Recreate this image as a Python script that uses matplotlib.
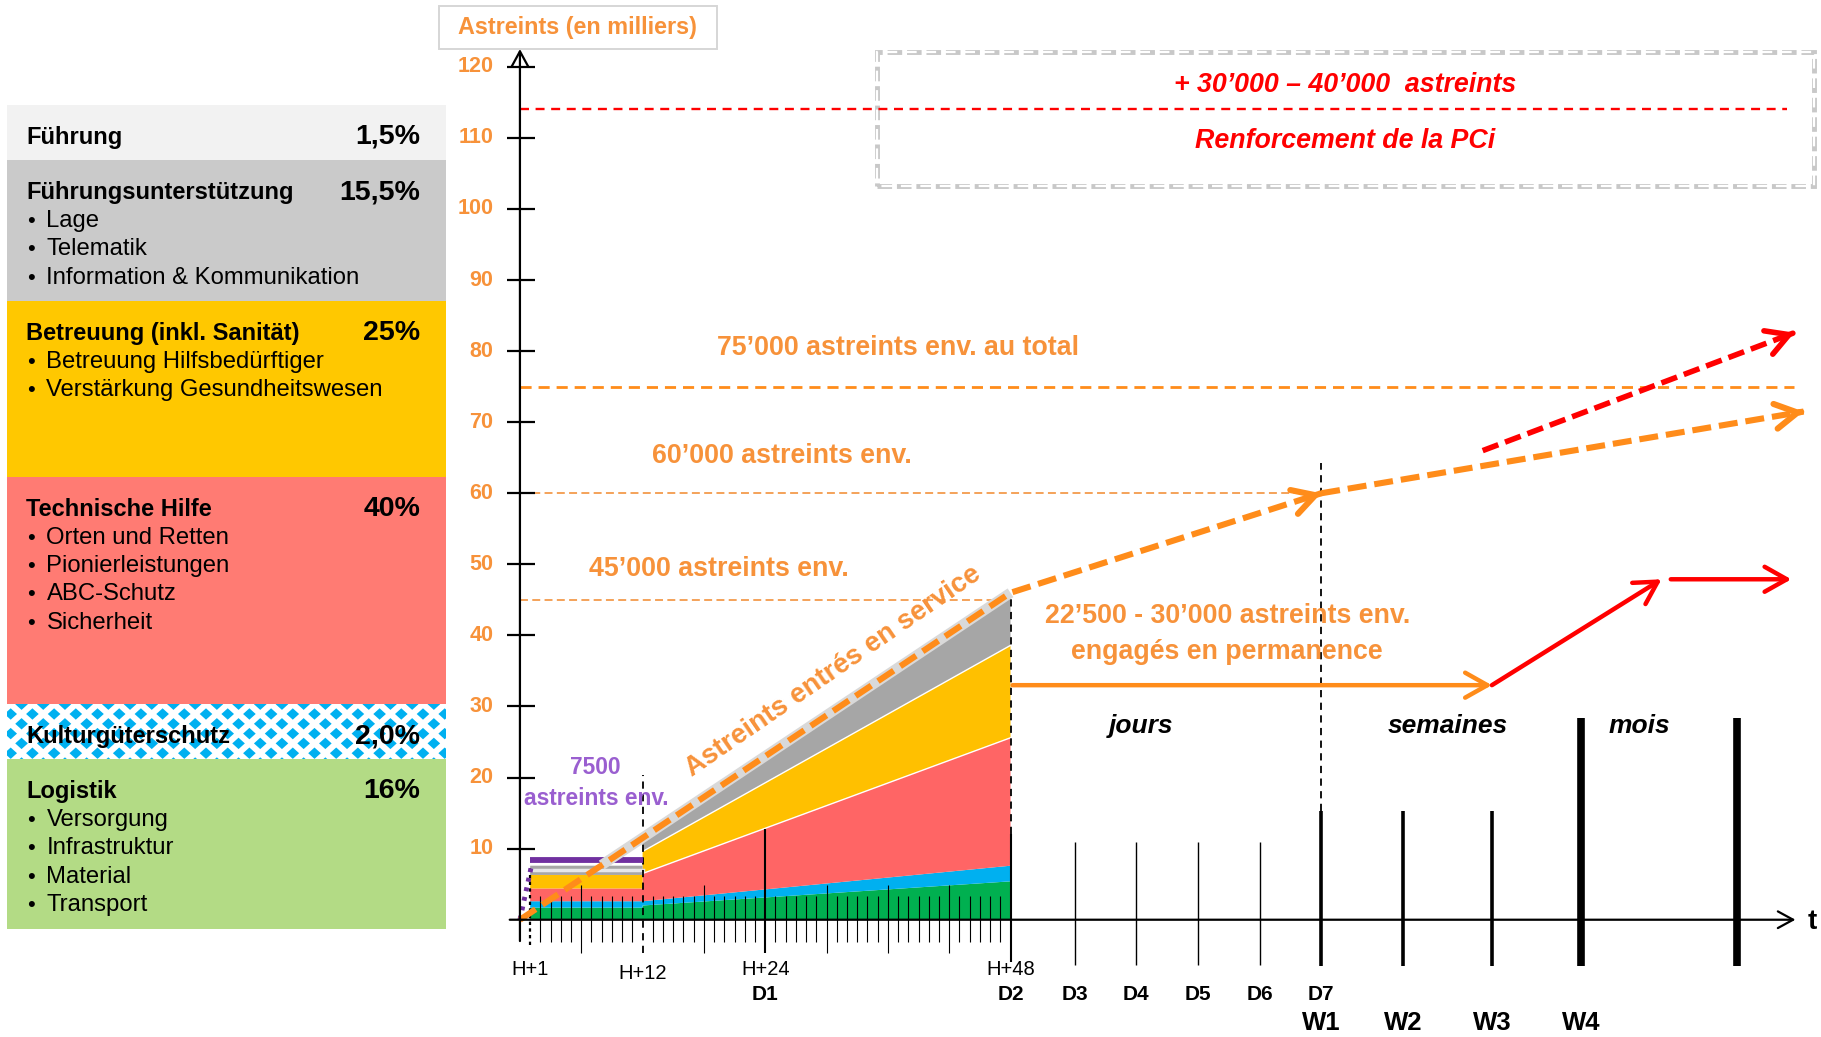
import matplotlib
matplotlib.use("Agg")
import matplotlib.pyplot as plt
import numpy as np
from matplotlib.patches import Rectangle, Polygon

# ---------------------------------------------------------------- data
branches = ["Führung", "Führungsunterstützung", "Betreuung (inkl. Sanität)",
            "Technische Hilfe", "Kulturgüterschutz", "Logistik"]
shares = ["1,5%", "15,5%", "25%", "40%", "2,0%", "16%"]
tasks = [[],
         ["Lage", "Telematik", "Information & Kommunikation"],
         ["Betreuung Hilfsbedürftiger", "Verstärkung Gesundheitswesen"],
         ["Orten und Retten", "Pionierleistungen", "ABC-Schutz", "Sicherheit"],
         [],
         ["Versorgung", "Infrastruktur", "Material", "Transport"]]
panel_colors = ["#F2F2F2", "#CACACA", "#FFC800", "#FF7B73", "white", "#B3DB85"]

# build-up of the first 48 hours (milliers), stacked by branch
stack_hours = [1, 12, 12, 48]
logistik = [1.7, 1.7, 2.0, 5.4]
kgs = [0.9, 0.9, 0.6, 2.2]
technik = [1.8, 1.8, 3.9, 18.0]
betreuung = [1.9, 1.9, 3.1, 13.0]
fu = [1.3, 1.3, 1.4, 7.2]
stack_colors = ["#00B050", "#00B0F0", "#FF6565", "#FFC000", "#A6A6A6"]
first_wave = 8.4

y_ticks = list(range(10, 130, 10))

# compressed time axis: hours, then days, then weeks
hour_labels = ["H+1", "H+12", "H+24", "H+48"]
hour_pos = [1, 12, 24, 48]
day_labels = ["D1", "D2", "D3", "D4", "D5", "D6", "D7"]
day_pos = [24, 48, 54.3, 60.3, 66.3, 72.4, 78.4]
week_labels = ["W1", "W2", "W3", "W4"]
week_pos = [78.4, 86.4, 95.1, 103.8]
month_end = 119.1

# total effectif (milliers)
service_x = [0, 48, 78.4]
service_y = [0, 46, 60]
later_x = [78.4, 125.6]
later_y = [60, 71.5]
pci_x = [94.2, 124.7]
pci_y = [66, 82.6]
perm_x = [48.2, 95.1]
perm_y = [33, 33]
perm_up_x = [95.1, 111.7]
perm_up_y = [33, 47.9]
perm_end_x = [112.6, 124.4]
perm_end_y = [47.9, 47.9]
lvl_45, lvl_60, lvl_75, lvl_pci = 45, 60, 75, 114

ORANGE = "#FF8C1A"
ORANGE_T = "#F7923A"
RED = "#FF0000"
PURPLE = "#7030A0"
PURPLE_T = "#9A5FD0"
SANS = "Liberation Sans"

fig = plt.figure(figsize=(18.21, 10.37), dpi=100)

# ---------------------------------------------------------------- left panel
lp = fig.add_axes([0, 0, 450 / 1821, 1])
lp.set_xlim(0, 450)
lp.set_ylim(1037, 0)
lp.axis("off")

tops = [105, 160, 301, 476.7, 704, 759, 928.5]
for i, name in enumerate(branches):
    top, bot = tops[i], tops[i + 1]
    box = Rectangle((7, top), 439, bot - top, fc=panel_colors[i], ec="none")
    lp.add_patch(box)
    if name == "Kulturgüterschutz":
        # diamond pattern fill
        for r in range(-1, 7):
            yc = top + 10 + 9.8 * r
            off = 0 if r % 2 == 0 else 10.85
            for c in range(23):
                xc = 10.7 - 21.7 + off + 21.7 * c
                d = Polygon([(xc - 6.3, yc), (xc, yc - 5.7), (xc + 6.3, yc), (xc, yc + 5.7)],
                            closed=True, fc="#00B0F0", ec="none")
                lp.add_patch(d)
                d.set_clip_path(box)
    base = top + 39
    lp.text(26.5, base, name, fontsize=17, fontweight="bold", family=SANS,
            va="baseline", ha="left", color="black")
    lp.text(420, base, shares[i], fontsize=20.5, fontweight="bold", family=SANS,
            va="baseline", ha="right", color="black")
    for j, t in enumerate(tasks[i]):
        yb = base + 28 + 28.3 * j
        lp.text(27, yb, "•", fontsize=16, family=SANS, va="baseline", ha="left")
        lp.text(46.5, yb, t, fontsize=17.2, family=SANS, va="baseline", ha="left")

# ---------------------------------------------------------------- main chart
ax = fig.add_axes([430 / 1821, 0, 1391 / 1821, 1])
ax.set_xlim(-8.8, 127.3)
ax.set_ylim(-16.5, 129.4)
ax.axis("off")

ax.stackplot(stack_hours, logistik, kgs, technik, betreuung, fu,
             colors=stack_colors, lw=0, zorder=2)
# thin white seams on the red and gold layer tops
cum = np.cumsum([logistik, kgs, technik, betreuung, fu], axis=0)
ax.plot(stack_hours[2:], cum[2, 2:], color="white", lw=1.0, zorder=2.5)
ax.plot(stack_hours[2:], cum[3, 2:], color="white", lw=1.0, zorder=2.5)
ax.plot(stack_hours[:2], (cum[3, :2] + cum[4, :2]) / 2, color="#E6E6E6", lw=2.5, zorder=2.5)
ax.plot([1, 12], [first_wave, first_wave], color=PURPLE, lw=4.2,
        solid_capstyle="butt", zorder=4)
ax.plot([0, 1.1], [0, 7.4], color=PURPLE, lw=3.5, ls=(0, (0.8, 1.2)), zorder=4)

# axes with arrows
arrow_axis = dict(arrowstyle="->,head_length=0.55,head_width=0.3", lw=1.6,
                  color="black", shrinkA=0, shrinkB=0, mutation_scale=20)
ax.annotate("", xy=(0, 122.5), xytext=(0, -3), arrowprops=arrow_axis, zorder=6)
ax.annotate("", xy=(124.8, 0), xytext=(-1, 0), arrowprops=arrow_axis, zorder=6)
ax.hlines(y_ticks, -1.3, 1.5, color="black", lw=1.6, zorder=6)
for v in y_ticks:
    ax.text(-2.6, v, str(v), ha="right", va="center", color=ORANGE_T,
            fontweight="bold", family=SANS, fontsize=15.5)
ax.text(126.4, -0.3, "t", ha="center", va="center", family=SANS,
        fontsize=20, fontweight="bold")

# hour ticks
six = [6, 18, 30, 36, 42]
minor = [h for h in range(2, 48) if h not in six + [12, 24]]
ax.vlines(minor, -3.1, 3.3, color="black", lw=0.8, zorder=3)
ax.vlines(six, -4.7, 4.9, color="black", lw=0.8, zorder=3)
ax.vlines(24, -4.7, 12.8, color="black", lw=1.5, zorder=3)
ax.vlines(48, -6.0, 12.0, color="black", lw=1.5, zorder=3)
ax.vlines(48, 12.0, 45.8, color="black", lw=1.3, ls=(0, (4, 3)), zorder=3)
ax.vlines(12, -4.7, 20.3, color="black", lw=1.3, ls=(0, (4, 3)), zorder=3)
ax.vlines(1, -3.5, 7.6, color="black", lw=1.6, ls=(0, (1.5, 1.5)), zorder=3)

# day / week ticks
ax.vlines(day_pos[2:6], -6.4, 11.0, color="black", lw=1.0, zorder=3)
ax.vlines(week_pos[:3], -6.5, 15.3, color="black", lw=2.6, zorder=3)
ax.vlines([week_pos[3], month_end], -6.5, 28.4, color="black", lw=5.5, zorder=3)
ax.vlines(week_pos[0], 15.3, 64.2, color="black", lw=1.3, ls=(0, (4, 3)), zorder=3)

for lab, x in zip(hour_labels, hour_pos):
    ax.text(x, -7.6 if lab == "H+12" else -7.0, lab, ha="center", va="center",
            family=SANS, fontsize=14.5)
for lab, x in zip(day_labels, day_pos):
    ax.text(x, -10.5, lab, ha="center", va="center", family=SANS,
            fontsize=15, fontweight="bold")
for lab, x in zip(week_labels, week_pos):
    ax.text(x, -14.5, lab, ha="center", va="center", family=SANS,
            fontsize=18.5, fontweight="bold")
for lab, x in [("jours", 60.8), ("semaines", 90.8), ("mois", 109.5)]:
    ax.text(x, 27.2, lab, ha="center", va="center", family=SANS,
            fontsize=19, style="italic", fontweight="bold")

# reference levels
ax.plot([0, 48], [lvl_45, lvl_45], color="#F39B4C", lw=1.3, ls=(0, (4.4, 2.4)), zorder=3)
ax.plot([0, 78.4], [lvl_60, lvl_60], color="#F39B4C", lw=1.3, ls=(0, (4.4, 2.4)), zorder=3)
ax.plot([0, 124.7], [lvl_75, lvl_75], color=ORANGE, lw=2.0, ls=(0, (4, 2.5)), zorder=3)
ax.plot([0, 124], [lvl_pci, lvl_pci], color=RED, lw=1.7, ls=(0, (3.8, 2.8)), zorder=3)

# PCi box (hollow dashes)
bx, by, bw, bh = 34.9, 103.2, 91.7, 18.9
ax.add_patch(Rectangle((bx, by), bw, bh, fill=False, ec="#C8C8C8", lw=3.5,
                       ls=(0, (3, 1)), zorder=2))
ax.add_patch(Rectangle((bx, by), bw, bh, fill=False, ec="white", lw=1.6,
                       ls=(10.8 / 1.6, (8.4 / 1.6, 5.6 / 1.6)), zorder=2))

# growth lines
ax.plot([8, 48], [7.7, 46], color="#D9D9D9", lw=7.5, solid_capstyle="butt", zorder=4)
ax.plot(service_x, service_y, color=ORANGE, lw=4.4, ls=(0, (3.1, 1.3)), zorder=5)
ax.plot(later_x, later_y, color=ORANGE, lw=4.4, ls=(0, (3.1, 1.3)), zorder=5)
ax.plot(pci_x, pci_y, color=RED, lw=4.0, ls=(0, (3.0, 1.3)), zorder=5)


def chevron(xs, ys, color, lw):
    x0 = xs[-2] + 0.995 * (xs[-1] - xs[-2])
    y0 = ys[-2] + 0.995 * (ys[-1] - ys[-2])
    ax.annotate("", xy=(xs[-1], ys[-1]), xytext=(x0, y0), zorder=6,
                arrowprops=dict(arrowstyle="->,head_length=0.8,head_width=0.45",
                                lw=lw, color=color, shrinkA=0, shrinkB=0,
                                mutation_scale=20, capstyle="round",
                                joinstyle="round"))


chevron(service_x, service_y, ORANGE, 4.4)
chevron(later_x, later_y, ORANGE, 4.4)
chevron(pci_x, pci_y, RED, 4.0)
for xs, ys, col in [(perm_x, perm_y, ORANGE), (perm_up_x, perm_up_y, RED),
                    (perm_end_x, perm_end_y, RED)]:
    ax.annotate("", xy=(xs[1], ys[1]), xytext=(xs[0], ys[0]), zorder=6,
                arrowprops=dict(arrowstyle="->,head_length=0.8,head_width=0.45",
                                lw=3.2, color=col, shrinkA=0, shrinkB=0,
                                mutation_scale=20, capstyle="round",
                                joinstyle="round"))

# texts
big = dict(family=SANS, fontweight="bold", ha="center", va="center", zorder=7)
ax.text(37.0, 80.4, "75’000 astreints env. au total", color=ORANGE_T, fontsize=19.3, **big)
ax.text(25.6, 65.3, "60’000 astreints env.", color=ORANGE_T, fontsize=19.3, **big)
ax.text(19.5, 49.3, "45’000 astreints env.", color=ORANGE_T, fontsize=19.3, **big)
ax.text(69.2, 42.8, "22’500 - 30’000 astreints env.", color=ORANGE_T, fontsize=19.3, **big)
ax.text(69.2, 37.6, "engagés en permanence", color=ORANGE_T, fontsize=19.3, **big)
ax.text(30.7, 35.0, "Astreints entrés en service", color=ORANGE_T, fontsize=19.8,
        rotation=34.5, rotation_mode="anchor", **big)
ax.text(7.4, 21.4, "7500", color=PURPLE_T, fontsize=16.4, **big)
ax.text(7.5, 17.0, "astreints env.", color=PURPLE_T, fontsize=16.4, **big)
ax.text(80.7, 117.5, "+ 30’000 – 40’000  astreints", color=RED, fontsize=19.3,
        style="italic", **big)
ax.text(80.7, 109.5, "Renforcement de la PCi", color=RED, fontsize=19.3,
        style="italic", **big)

ax.add_patch(Rectangle((-7.9, 122.5), 27.2, 6.1, fc="white", ec="#D6D6D6", lw=1.4,
                       clip_on=False, zorder=6))
ax.text(5.6, 125.6, "Astreints (en milliers)", color=ORANGE_T, fontsize=16.8, **big)

fig.savefig("out.png", dpi=100)
